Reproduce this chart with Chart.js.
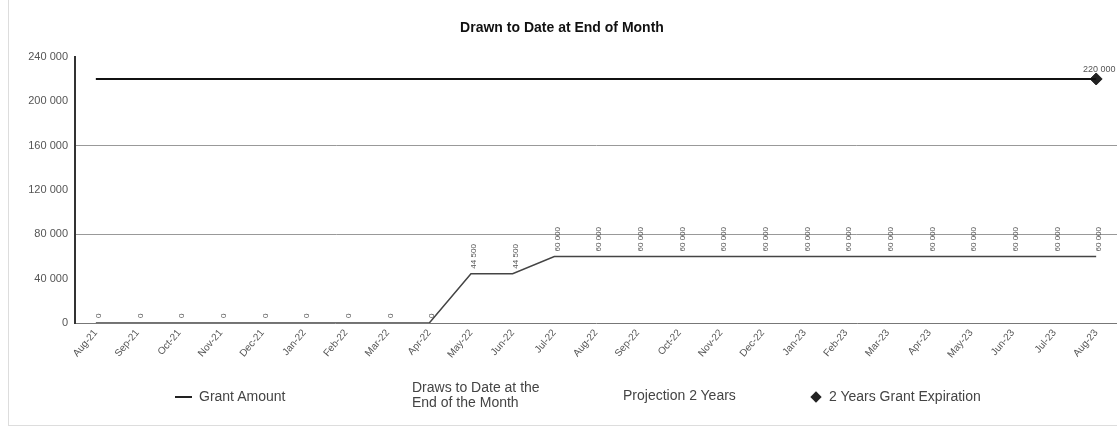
<!DOCTYPE html>
<html>
<head>
<meta charset="utf-8">
<script src="https://cdn.jsdelivr.net/npm/chart.js@4.4.0/dist/chart.umd.min.js"></script>
<style>
    html, body { margin: 0; padding: 0; overflow: hidden; background: #fff; }
    #wrap { position: relative; width: 1124px; height: 431px; }
    #frame { position: absolute; left: 8px; top: -2px; width: 1200px; height: 426px; border: 1px solid #ddd; }
    .leg { position: absolute; font: 14px "Liberation Sans", Arial, sans-serif; color: #444; line-height: 15px; }
</style>
</head>
<body>
<div id="wrap">
    <div id="frame"></div>
    <canvas id="drawsChart" width="1124" height="431"></canvas>
    <!-- legend -->
    <div class="leg" style="left:175px; top:389px;"><span style="display:inline-block;width:17px;border-top:2px solid #222;vertical-align:middle;margin-right:7px;"></span>Grant Amount</div>
    <div class="leg" style="left:412px; top:380px;">Draws to Date at the<br>End of the Month</div>
    <div class="leg" style="left:623px; top:388px;">Projection 2 Years</div>
    <div class="leg" style="left:812px; top:389px;"><span style="display:inline-block;width:8px;height:8px;background:#222;transform:rotate(45deg);vertical-align:middle;margin-right:9px;"></span>2 Years Grant Expiration</div>
</div>
<script>
// chart data
const months = ['Aug-21', 'Sep-21', 'Oct-21', 'Nov-21', 'Dec-21', 'Jan-22', 'Feb-22', 'Mar-22', 'Apr-22',
    'May-22', 'Jun-22', 'Jul-22', 'Aug-22', 'Sep-22', 'Oct-22', 'Nov-22', 'Dec-22', 'Jan-23', 'Feb-23',
    'Mar-23', 'Apr-23', 'May-23', 'Jun-23', 'Jul-23', 'Aug-23'];

const grantAmount = [220000, 220000, 220000, 220000, 220000, 220000, 220000, 220000, 220000,
    220000, 220000, 220000, 220000, 220000, 220000, 220000, 220000, 220000, 220000,
    220000, 220000, 220000, 220000, 220000, 220000];

const drawsToDate = [0, 0, 0, 0, 0, 0, 0, 0, 0,
    44500, 44500, 60000, 60000, 60000, 60000, 60000, 60000, 60000, 60000,
    60000, 60000, 60000, 60000, 60000, 60000];

const grantExpiration = [null, null, null, null, null, null, null, null, null,
    null, null, null, null, null, null, null, null, null, null,
    null, null, null, null, null, 220000];

const yTicks = [0, 40000, 80000, 120000, 160000, 200000, 240000];

// number like 240 000
function fmt(v) {
    return String(v).replace(/\B(?=(\d{3})+(?!\d))/g, ' ');
}

// small value labels drawn next to the points
const valueLabels = {
    id: 'valueLabels',
    afterDatasetsDraw(chart) {
        const ctx = chart.ctx;
        ctx.save();
        ctx.fillStyle = '#555';
        ctx.font = '8px "Liberation Sans", Arial, sans-serif';
        chart.getDatasetMeta(1).data.forEach((pt, i) => {
            ctx.save();
            ctx.translate(pt.x + 3, pt.y - 5);
            ctx.rotate(-Math.PI / 2);
            ctx.textAlign = 'left';
            ctx.textBaseline = 'middle';
            ctx.fillText(fmt(drawsToDate[i]), 0, 0);
            ctx.restore();
        });
        ctx.font = '9px "Liberation Sans", Arial, sans-serif';
        ctx.textAlign = 'center';
        ctx.textBaseline = 'bottom';
        chart.getDatasetMeta(2).data.forEach((pt, i) => {
            if (grantExpiration[i] == null) return;
            ctx.fillText(fmt(grantExpiration[i]), pt.x + 3, pt.y - 5);
        });
        ctx.restore();
    }
};

const config = {
    type: 'line',
    data: {
        labels: months,
        datasets: [{
            label: 'Grant Amount',
            data: grantAmount,
            borderColor: '#111',
            borderWidth: 2,
            pointRadius: 0,
            tension: 0
        }, {
            label: 'Draws to Date at the End of the Month',
            data: drawsToDate,
            borderColor: '#444',
            borderWidth: 1.5,
            pointRadius: 0,
            tension: 0
        }, {
            label: '2 Years Grant Expiration',
            data: grantExpiration,
            showLine: false,
            pointStyle: 'rectRot',
            pointRadius: 6,
            backgroundColor: '#222',
            borderColor: '#222'
        }]
    },
    options: {
        responsive: false,
        animation: false,
        layout: { padding: { left: 0, right: 0, top: 0, bottom: 0 } },
        plugins: {
            legend: { display: false },
            tooltip: { enabled: false },
            title: {
                display: true,
                text: 'Drawn to Date at End of Month',
                color: '#111',
                font: { family: '"Liberation Sans", Arial, sans-serif', size: 14, weight: 'bold' },
                padding: { top: 20, bottom: 20 }
            }
        },
        scales: {
            x: {
                offset: true,
                grid: { color: 'transparent', drawTicks: false },
                border: { color: '#777', width: 1 },
                ticks: {
                    color: '#555',
                    font: { family: '"Liberation Sans", Arial, sans-serif', size: 10 },
                    minRotation: 50,
                    maxRotation: 50,
                    padding: 4,
                    autoSkip: false
                },
                afterFit(scale) { scale.height = 108; }
            },
            y: {
                min: 0,
                max: 240000,
                afterBuildTicks(scale) { scale.ticks = yTicks.map(v => ({ value: v })); },
                grid: {
                    color: ctx => (ctx.tick && ctx.tick.value % 80000 === 0 && ctx.tick.value !== 0 && ctx.tick.value !== 240000) ? '#999' : 'transparent',
                    drawTicks: false
                },
                border: { color: '#333', width: 2 },
                ticks: {
                    color: '#555',
                    font: { family: '"Liberation Sans", Arial, sans-serif', size: 11 },
                    padding: 7,
                    callback: v => fmt(v)
                },
                afterFit(scale) { scale.width = 75; }
            }
        }
    },
    plugins: [valueLabels]
};

const myChart = new Chart(document.getElementById('drawsChart'), config);
</script>
</body>
</html>
